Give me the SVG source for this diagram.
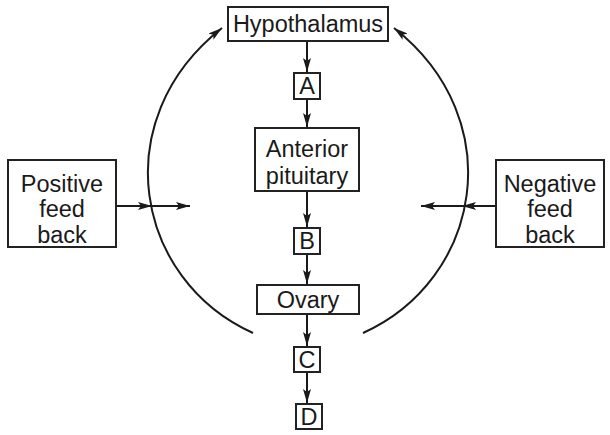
<svg xmlns="http://www.w3.org/2000/svg" width="610" height="435" viewBox="0 0 610 435">
<style>
.box{fill:#fff;stroke:#222;stroke-width:2}
.t{font-family:"Liberation Sans",Arial,sans-serif;font-size:23.5px;fill:#1a1a1a;text-anchor:middle}
.c{fill:none;stroke:#1a1a1a;stroke-width:2}
</style>
<defs>
<marker id="ah" viewBox="0 0 14 8" refX="14" refY="4" markerWidth="14" markerHeight="8" markerUnits="userSpaceOnUse" orient="auto">
<path d="M0,0 L14,4 L0,8 L3,4 Z" fill="#1a1a1a"/>
</marker>
</defs>
<rect width="610" height="435" fill="#fff"/>
<g id="connectors">
<line class="c" x1="307" y1="41" x2="307" y2="72" marker-end="url(#ah)"/>
<line class="c" x1="307" y1="99" x2="307" y2="127" marker-end="url(#ah)"/>
<line class="c" x1="307" y1="191" x2="307" y2="227" marker-end="url(#ah)"/>
<line class="c" x1="307" y1="254" x2="307" y2="284" marker-end="url(#ah)"/>
<line class="c" x1="307" y1="314" x2="307" y2="346" marker-end="url(#ah)"/>
<line class="c" x1="307" y1="372" x2="307" y2="403" marker-end="url(#ah)"/>
<path class="c" d="M253,333 C135,280 105,120 222,28" marker-end="url(#ah)"/>
<path class="c" d="M363,333 C481,280 511,120 394,28" marker-end="url(#ah)"/>
<line class="c" x1="117" y1="206" x2="152" y2="206" marker-end="url(#ah)"/>
<line class="c" x1="150" y1="206" x2="190" y2="206" marker-end="url(#ah)"/>
<line class="c" x1="495" y1="206" x2="462" y2="206" marker-end="url(#ah)"/>
<line class="c" x1="464" y1="206" x2="421" y2="206" marker-end="url(#ah)"/>
</g>
<g id="hypothalamus"><rect class="box" x="228" y="7" width="160" height="34"/><text class="t" x="308" y="32">Hypothalamus</text></g>
<g id="A"><rect class="box" x="294" y="73" width="26" height="26"/><text class="t" x="307" y="94">A</text></g>
<g id="anterior-pituitary"><rect class="box" x="255" y="128" width="104" height="63"/><text class="t" x="307" y="157">Anterior</text><text class="t" x="307" y="184">pituitary</text></g>
<g id="B"><rect class="box" x="294" y="228" width="26" height="26"/><text class="t" x="307" y="249">B</text></g>
<g id="ovary"><rect class="box" x="257" y="285" width="102" height="29"/><text class="t" x="308" y="308">Ovary</text></g>
<g id="C"><rect class="box" x="294" y="347" width="26" height="25"/><text class="t" x="307" y="368">C</text></g>
<g id="D"><rect class="box" x="296" y="404" width="26" height="25"/><text class="t" x="309" y="425">D</text></g>
<g id="positive-feedback"><rect class="box" x="8" y="160" width="108" height="87"/><text class="t" x="62" y="192">Positive</text><text class="t" x="62" y="217">feed</text><text class="t" x="62" y="243">back</text></g>
<g id="negative-feedback"><rect class="box" x="496" y="160" width="108" height="87"/><text class="t" x="550" y="192">Negative</text><text class="t" x="550" y="217">feed</text><text class="t" x="550" y="243">back</text></g>
</svg>
